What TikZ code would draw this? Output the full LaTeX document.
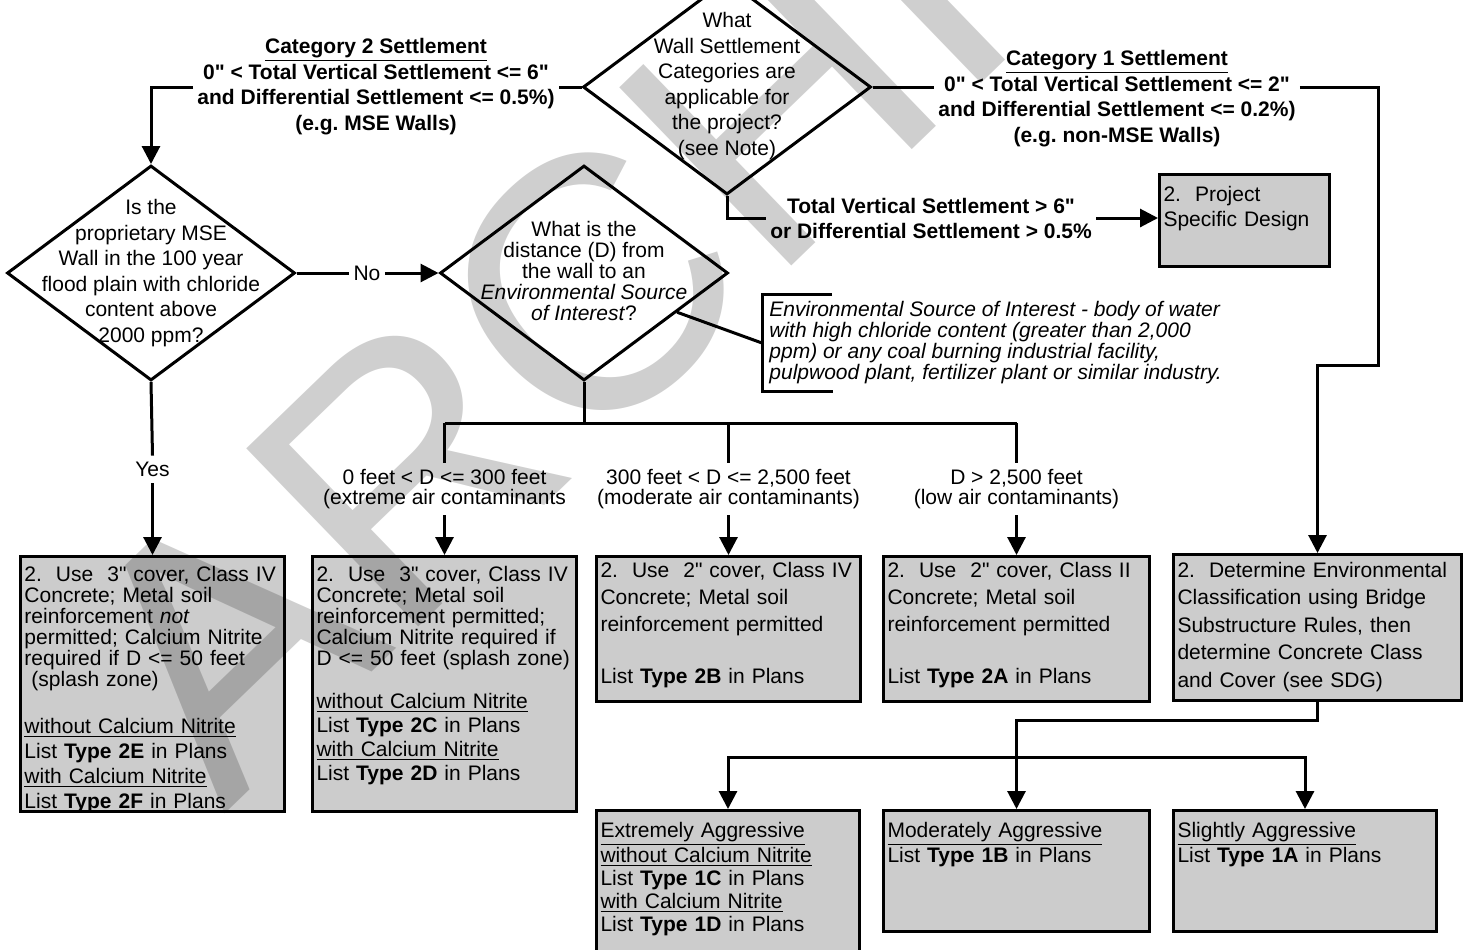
\documentclass[tikz,border=0pt]{standalone}
\usepackage{fontspec}
\setmainfont{Liberation Sans}[Ligatures=TeXOff]
\usetikzlibrary{positioning,arrows.meta,calc,shapes.geometric}
\newcommand{\fsz}[1]{\fontsize{10.5}{#1}\selectfont}
\frenchspacing
\tikzset{
  dec/.style={diamond,draw,line width=1.5pt,minimum width=144pt,minimum height=107.5pt,inner sep=0pt},
  qtxt/.style={align=center,inner sep=0pt},
  res/.style={rectangle,draw,fill=black!20,line width=1.5pt,anchor=north west,align=left,
    inner xsep=2pt,inner ysep=2pt},
  cond/.style={align=center,inner sep=2pt},
  lbl/.style={align=center,inner xsep=2pt,inner ysep=3pt},
  wire/.style={line width=1.5pt},
  flow/.style={line width=1.5pt,-{Triangle[length=9pt,width=9pt]}},
  wmark/.style={text=black,text opacity=0.19,font=\fontsize{180}{180}\selectfont,
    rotate=44,anchor=base west,inner sep=0pt},
}

\begin{document}
\begin{tikzpicture}[x=0.5pt,y=-0.5pt,font=\fsz{12.5}]
  \useasboundingbox (0,0) rectangle (1466,949);
  \clip (0,0) rectangle (1466,949);
  % decisions
  \node[dec] (q1) at (727,87) {};
  \node[qtxt,font=\fsz{12.8}] (q1t) at (727,86) {What\\Wall Settlement\\Categories are\\applicable for\\the project?\\(see Note)};
  \node[dec] (q2) at (151,273) {};
  \node[qtxt,font=\fsz{12.8}] (q2t) at (151,273) {Is the\\proprietary MSE\\Wall in the 100 year\\flood plain with chloride\\content above\\2000 ppm?};
  \node[dec] (q3) at (584,273) {};
  \node[qtxt,font=\fsz{10.5}] (q3t) at (584,271) {What is the\\distance (D) from\\the wall to an\\\textit{Environmental Source}\\\textit{of Interest}?};
  % settlement categories
  \node[cond,font=\fsz{12.85}\bfseries] (cat2) at (376,86.5) {\underline{Category 2 Settlement}\\0" < Total Vertical Settlement <= 6"\\and Differential Settlement <= 0.5\%)\\(e.g. MSE Walls)};
  \node[cond,font=\fsz{12.85}\bfseries] (cat1) at (1117,98.5) {\underline{Category 1 Settlement}\\0" < Total Vertical Settlement <= 2"\\and Differential Settlement <= 0.2\%)\\(e.g. non-MSE Walls)};
  \node[cond,font=\fsz{12.5}\bfseries] (cat3) at (931,218) {Total Vertical Settlement > 6"\\or Differential Settlement > 0.5\%};
  \node[res,font=\fsz{12.5},text width=81pt,text height=11.25pt,text depth=30.75pt] (psd) at (1158,173) {2.\ \ Project\\Specific Design};
  % note
  \node[anchor=west,align=left,font=\fsz{10.5}\itshape,inner xsep=3.5pt,inner ysep=0pt,minimum height=48pt] (env) at (762,343)
    {Environmental Source of Interest - body of water\\with high chloride content (greater than 2,000\\ppm) or any coal burning industrial facility,\\pulpwood plant, fertilizer plant or similar industry.};
  % result boxes, upper row
  \node[res,text width=128pt,text height=10.25pt,text depth=113.25pt,font=\fsz{10.5}] (bA) at (19,555)
    {2.\ \ Use\ \ 3" cover, Class IV\\Concrete; Metal soil\\reinforcement \textit{not}\\permitted; Calcium Nitrite\\required if D <= 50 feet\\\mbox{}\ (splash zone)\\[13pt]
     \underline{without Calcium Nitrite}\\[2pt]List \textbf{Type 2E} in Plans\\[2pt]\underline{with Calcium Nitrite}\\[2pt]List \textbf{Type 2F} in Plans};
  \node[res,text width=128pt,text height=10.25pt,text depth=113.25pt,font=\fsz{10.5},right=12.5pt of bA] (bB)
    {2.\ \ Use\ \ 3" cover, Class IV\\Concrete; Metal soil\\reinforcement permitted;\\Calcium Nitrite required if\\D <= 50 feet (splash zone)\\[11pt]
     \underline{without Calcium Nitrite}\\[1.5pt]List \textbf{Type 2C} in Plans\\[1.5pt]\underline{with Calcium Nitrite}\\[1.5pt]List \textbf{Type 2D} in Plans};
  \node[res,text width=128pt,text height=8.25pt,text depth=60.25pt,font=\fsz{13.5}] (bC) at (595,555)
    {2.\ \ Use\ \ 2" cover, Class IV\\Concrete; Metal soil\\reinforcement permitted\\[12.5pt]List \textbf{Type 2B} in Plans};
  \node[res,text width=129pt,text height=8.25pt,text depth=60.25pt,font=\fsz{13.5}] (bD) at (882,555)
    {2.\ \ Use\ \ 2" cover, Class II\\Concrete; Metal soil\\reinforcement permitted\\[12.5pt]List \textbf{Type 2A} in Plans};
  \node[res,text width=140pt,text height=9.25pt,text depth=59.75pt,font=\fsz{13.75}] (bE) at (1172,553)
    {2.\ \ Determine Environmental\\Classification using Bridge\\Substructure Rules, then\\determine Concrete Class\\and Cover (see SDG)};
  % result boxes, lower row
  \node[res,text width=127.5pt,text height=11.25pt,text depth=62.75pt,font=\fsz{11.5}] (bF) at (595,809)
    {\underline{Extremely Aggressive}\\\underline{without Calcium Nitrite}\\List \textbf{Type 1C} in Plans\\\underline{with Calcium Nitrite}\\List \textbf{Type 1D} in Plans};
  \node[res,text width=129pt,text height=11.25pt,text depth=45.25pt] (bG) at (882,809)
    {\underline{Moderately Aggressive}\\List \textbf{Type 1B} in Plans};
  \node[res,text width=127.5pt,text height=11.25pt,text depth=45.25pt] (bH) at (1172,809)
    {\underline{Slightly Aggressive}\\List \textbf{Type 1A} in Plans};
  % branch labels
  \node[lbl,above=36pt of bA] (yes) {Yes};
  \node[lbl,inner ysep=2pt] (no) at (367,273) {No};
  \node[lbl,font=\fsz{10},above=20pt of bB] (lb) {0 feet < D <= 300 feet\\(extreme air contaminants};
  \node[lbl,font=\fsz{10},above=20pt of bC] (lc) {300 feet < D <= 2,500 feet\\(moderate air contaminants)};
  \node[lbl,font=\fsz{10},above=20pt of bD] (ld) {D > 2,500 feet\\(low air contaminants)};
  % levels
  \coordinate (br) at (0,423);
  \coordinate (lvl1) at (0,720);
  \coordinate (lvl2) at (0,757);
  \coordinate (jog) at (1378,365);
  % connectors
  \draw[wire] (q1.west) -- (cat2.east |- q1.west);
  \draw[flow] (cat2.west |- q1.west) -| (q2.north);
  \draw[wire] (q1.east) -- (cat1.west |- q1.east);
  \draw[flow] (cat1.east |- q1.east) -| (jog) -| (bE.north);
  \draw[wire] (q1.south) |- (cat3.west);
  \draw[flow] (cat3.east) -- (cat3.east -| psd.west);
  \draw[wire] (q2.east) -- (no.west);
  \draw[flow] (no.east) -- (q3.west);
  \draw[wire] (q2.south) -- (yes.north);
  \draw[flow] (yes.south) -- (bA.north);
  \draw[wire] (q3.south) -- (q3.south |- br);
  \draw[wire] (lb.north |- br) -- (ld.north |- br);
  \foreach \n/\b in {lb/bB,lc/bC,ld/bD}{
    \draw[wire] (\n.north |- br) -- (\n.north);
    \draw[flow] (\n.south) -- (\b.north);
  }
  \draw[wire] ($(q3.east)!0.36!(q3.south)$) -- (env.west);
  \draw[wire] ([xshift=35pt]env.north west) -- (env.north west) -- (env.south west) -- ([xshift=35.5pt]env.south west);
  \draw[flow] (bE.south) |- (bG.north |- lvl1) -- (bG.north);
  \draw[flow] (bG.north |- lvl2) -| (bF.north);
  \draw[flow] (bG.north |- lvl2) -| (bH.north);
  % watermark
  \node[wmark] (wm) at (224,815) {ARCHIVE};
\end{tikzpicture}
\end{document}
